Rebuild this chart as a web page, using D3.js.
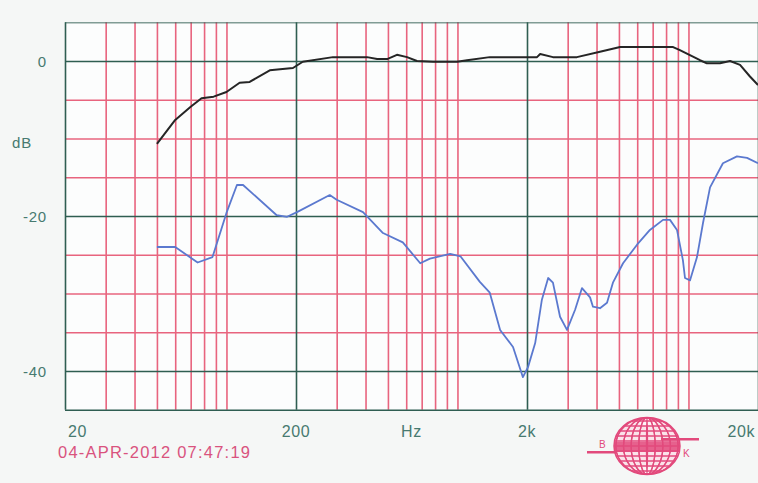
<!DOCTYPE html>
<html>
<head>
<meta charset="utf-8">
<script src="https://cdn.jsdelivr.net/npm/d3@7"></script>
<style>
html,body{margin:0;padding:0;background:#f5f7f6;}
svg{display:block;}
text{font-family:"Liberation Sans",Arial,sans-serif;}
</style>
</head>
<body>
<svg id="chart" width="758" height="483"></svg>
<script>
// ---- data ----
const blackFreq = [50,60,70,78,88,100,114,126,154,194,214,289,406,449,496,547,605,668,784,996,1100,1380,2210,2280,2590,3290,4140,5060,8580,9180,11220,12020,13690,15140,16720,18460,20000];
const blackDb   = [-10.7,-7.6,-5.9,-4.8,-4.6,-4.0,-2.8,-2.7,-1.2,-0.9,-0.1,0.5,0.5,0.25,0.25,0.8,0.5,0,-0.1,-0.1,0.1,0.5,0.5,0.9,0.5,0.5,1.2,1.8,1.8,1.4,0.1,-0.3,-0.3,0,-0.5,-2,-3.1];
const blueFreq = [50,60,75,87,100,111,118,165,183,202,280,300,390,476,580,690,760,930,1030,1250,1380,1530,1740,1920,2020,2170,2320,2470,2590,2780,2980,3230,3460,3750,3860,4140,4440,4710,5210,5990,6810,7760,8320,8920,9460,9660,10160,10890,11560,12400,14100,16220,17930,20000];
const blueDb   = [-24,-24,-26,-25.3,-19.6,-16,-16,-19.9,-20.1,-19.5,-17.3,-17.9,-19.5,-22.2,-23.4,-26.1,-25.5,-24.9,-25.2,-28.5,-29.9,-34.7,-36.9,-40.8,-39.5,-36.4,-30.8,-28,-28.6,-33,-34.7,-32.1,-29.3,-30.5,-31.7,-31.9,-31.2,-28.6,-26.1,-23.7,-21.8,-20.5,-20.5,-21.8,-25.7,-28,-28.3,-25.3,-20.9,-16.3,-13.2,-12.3,-12.5,-13.2];
const majorFreqs = [20,200,2000,20000];
const minorFreqs = [30,40,50,60,70,80,90,100,300,400,500,600,700,800,900,1000,3000,4000,5000,6000,7000,8000,9000,10000];
const dbLines = [5,0,-5,-10,-15,-20,-25,-30,-35,-40,-45];
const majorDb = [5,0,-20,-40,-45];
const xTickLabels = [{f:20,t:"20"},{f:200,t:"200"},{f:632,t:"Hz"},{f:2000,t:"2k"},{f:20000,t:"20k"}];
const yTickLabels = [{v:0,t:"0"},{v:-10,t:"dB"},{v:-20,t:"-20"},{v:-40,t:"-40"}];
const stampText = "04-APR-2012 07:47:19";

// ---- layout ----
const svg = d3.select("#chart");
const L = 65, R = 758, T = 22.25, B = 409.75;
const x = d3.scaleLog().domain([20,20000]).range([L,R]);
const y = d3.scaleLinear().domain([5,-45]).range([T,B]);
const green = "#2f5e52", red = "#e8647e", lab = "#477a70";

svg.append("rect").attr("x",L).attr("y",T).attr("width",R-L).attr("height",B-T).attr("fill","#fcfdfd");

// minor verticals (red)
const gv = svg.append("g").attr("transform",`translate(0,${B})`)
  .call(d3.axisBottom(x).tickValues(minorFreqs).tickSize(-(B-T)).tickFormat(""));
gv.select(".domain").remove();
gv.selectAll(".tick line").attr("stroke",red).attr("stroke-width",1.6);

// horizontal lines
const gh = svg.append("g").attr("transform",`translate(${L},0)`)
  .call(d3.axisLeft(y).tickValues(dbLines).tickSize(-(R-L)).tickFormat(""));
gh.select(".domain").remove();
gh.selectAll(".tick line").attr("stroke",d=>majorDb.includes(d)?green:red)
  .attr("stroke-width",d=>majorDb.includes(d)?1.4:1.6)
  .attr("stroke-opacity",d=>d===5?0.6:1);

// major verticals (green)
const gm = svg.append("g").attr("transform",`translate(0,${B})`)
  .call(d3.axisBottom(x).tickValues(majorFreqs).tickSize(-(B-T)).tickFormat(""));
gm.select(".domain").remove();
gm.selectAll(".tick line").attr("stroke",green).attr("stroke-width",1.6);

// curves
const line = d3.line().x(d=>x(d[0])).y(d=>y(d[1]));
svg.append("path").datum(blueFreq.map((f,i)=>[f,blueDb[i]]))
  .attr("d",line).attr("fill","none").attr("stroke","#5b79cf").attr("stroke-width",1.8).attr("stroke-linejoin","round");
svg.append("path").datum(blackFreq.map((f,i)=>[f,blackDb[i]]))
  .attr("d",line).attr("fill","none").attr("stroke","#252525").attr("stroke-width",2).attr("stroke-linejoin","round");

// x labels
svg.append("g").selectAll("text").data(xTickLabels).join("text")
  .attr("x",d=>d.f===20?x(d.f)+3:(d.f===20000?x(d.f)-3:x(d.f)))
  .attr("y",437)
  .attr("text-anchor",d=>d.f===20?"start":(d.f===20000?"end":"middle"))
  .attr("font-size",16).attr("letter-spacing",0.6).attr("fill",lab).text(d=>d.t);

// y labels
svg.append("g").selectAll("text").data(yTickLabels).join("text")
  .attr("x",d=>d.t==="dB"?32:47)
  .attr("y",d=>y(d.v)+(d.t==="dB"?9:5.5))
  .attr("text-anchor","end")
  .attr("font-size",15).attr("letter-spacing",0.8).attr("fill",lab).text(d=>d.t);

// timestamp
svg.append("text").attr("x",58).attr("y",458).attr("font-size",16.5)
  .attr("textLength",192).attr("lengthAdjust","spacing")
  .attr("fill","#d9537e").text(stampText);

// B&K logo
const lg = svg.append("g").attr("transform","translate(647,446)");
const pink = "#e24a7c";
lg.append("ellipse").attr("rx",33).attr("ry",28.5).attr("fill","#fbe3ea").attr("stroke",pink).attr("stroke-width",1.5);
const clip = svg.append("clipPath").attr("id","globe");
clip.append("ellipse").attr("cx",647).attr("cy",446).attr("rx",33).attr("ry",28.5);
const gg = svg.append("g").attr("clip-path","url(#globe)").append("g").attr("transform","translate(647,446)");
d3.range(-4,5).forEach(k=>{
  gg.append("ellipse").attr("rx",Math.abs(k)*33/4.3+0.5).attr("ry",28.5).attr("fill","none").attr("stroke",pink).attr("stroke-width",1.3);
});
d3.range(-25,28,5).forEach(v=>{
  gg.append("line").attr("x1",-34).attr("x2",34).attr("y1",v).attr("y2",v).attr("stroke",pink).attr("stroke-width",1.3);
});
lg.append("ellipse").attr("cy",-24).attr("rx",9).attr("ry",3.5).attr("fill","#fdf3f6");
lg.append("ellipse").attr("cy",24).attr("rx",9).attr("ry",3.5).attr("fill","#fdf3f6");
lg.append("rect").attr("x",-33).attr("y",-4).attr("width",66).attr("height",10).attr("fill",pink).attr("opacity",0.85);
lg.append("rect").attr("x",-60).attr("y",5).attr("width",30).attr("height",2.5).attr("fill",pink);
lg.append("rect").attr("x",14).attr("y",-8).attr("width",38).attr("height",2.5).attr("fill",pink);
lg.append("text").attr("x",-48).attr("y",2).attr("font-size",10).attr("fill",pink).text("B");
lg.append("text").attr("x",36).attr("y",11).attr("font-size",10).attr("fill",pink).text("K");
</script>
</body>
</html>
